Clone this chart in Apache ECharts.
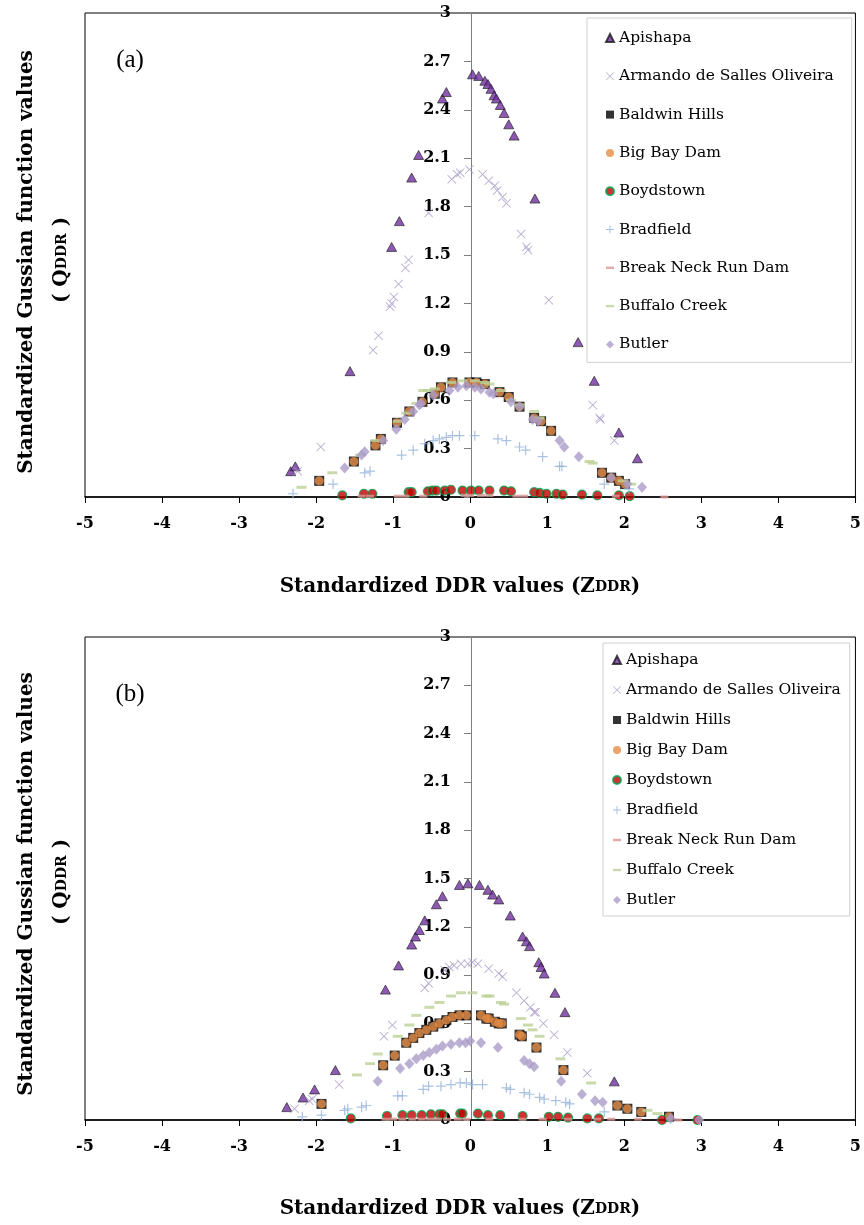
<!DOCTYPE html>
<html>
<head>
<meta charset="utf-8">
<script src="https://cdn.jsdelivr.net/npm/echarts@6.0.0/dist/echarts.min.js"></script>
<style>
  html, body { margin: 0; padding: 0; background: #fff; }
  #main { width: 864px; height: 1225px; }
</style>
</head>
<body>
<div id="main"></div>
<script>
// ---- data: [Z_DDR, Q_DDR] ----
var names = ['Apishapa', 'Armando de Salles Oliveira', 'Baldwin Hills', 'Big Bay Dam',
  'Boydstown', 'Bradfield', 'Break Neck Run Dam', 'Buffalo Creek', 'Butler'];
var xTicks = [-5, -4, -3, -2, -1, 0, 1, 2, 3, 4, 5];
var yTicks = [0, 0.3, 0.6, 0.9, 1.2, 1.5, 1.8, 2.1, 2.4, 2.7, 3];

// panel (a)
var apishapaA = [[-2.33,0.16],[-2.27,0.19],[-1.56,0.78],[-1.02,1.55],[-0.92,1.71],[-0.76,1.98],[-0.67,2.12],
  [-0.36,2.47],[-0.31,2.51],[0.03,2.62],[0.11,2.61],[0.19,2.58],[0.23,2.56],[0.27,2.53],[0.31,2.49],[0.34,2.47],
  [0.39,2.43],[0.44,2.38],[0.50,2.31],[0.57,2.24],[0.84,1.85],[1.40,0.96],[1.61,0.72],[1.93,0.40],[2.17,0.24]];
var armandoA = [[-2.24,0.16],[-1.94,0.31],[-1.26,0.91],[-1.19,1.00],[-1.04,1.18],[-1.02,1.20],[-0.99,1.24],
  [-0.93,1.32],[-0.84,1.42],[-0.80,1.47],[-0.54,1.76],[-0.24,1.97],[-0.17,2.00],[-0.13,2.01],[-0.01,2.03],
  [0.16,2.00],[0.24,1.96],[0.32,1.93],[0.35,1.90],[0.42,1.86],[0.47,1.82],[0.66,1.63],[0.73,1.55],[0.75,1.53],
  [1.02,1.22],[1.59,0.57],[1.68,0.49],[1.69,0.48],[1.87,0.35]];
var baldwinA = [[-1.96,0.10],[-1.51,0.22],[-1.23,0.32],[-1.16,0.36],[-0.95,0.46],[-0.79,0.53],[-0.62,0.59],
  [-0.46,0.64],[-0.38,0.68],[-0.23,0.71],[-0.01,0.71],[0.08,0.71],[0.19,0.70],[0.38,0.65],[0.50,0.62],
  [0.64,0.56],[0.83,0.49],[0.92,0.47],[1.05,0.41],[1.71,0.15],[1.83,0.12],[1.93,0.10],[2.01,0.08]];
var bigBayA = [[-1.96,0.10],[-1.51,0.22],[-1.23,0.32],[-1.16,0.36],[-0.95,0.46],[-0.79,0.53],[-0.62,0.59],
  [-0.46,0.64],[-0.38,0.68],[-0.23,0.71],[-0.01,0.71],[0.08,0.71],[0.19,0.70],[0.38,0.65],[0.50,0.62],
  [0.64,0.56],[0.83,0.49],[0.92,0.47],[1.05,0.41],[1.71,0.15],[1.83,0.12],[1.93,0.10],[2.01,0.08]];
var boydstownA = [[-1.66,0.01],[-1.38,0.02],[-1.27,0.02],[-0.80,0.03],[-0.76,0.03],[-0.55,0.035],[-0.49,0.04],
  [-0.44,0.04],[-0.33,0.04],[-0.25,0.045],[-0.10,0.04],[0.01,0.04],[0.11,0.04],[0.25,0.04],[0.44,0.04],
  [0.53,0.035],[0.83,0.03],[0.90,0.025],[0.99,0.02],[1.12,0.02],[1.20,0.015],[1.45,0.015],[1.65,0.01],
  [1.93,0.01],[2.07,0.005]];
var bradfieldA = [[-2.30,0.02],[-1.78,0.08],[-1.37,0.15],[-1.30,0.16],[-0.89,0.26],[-0.74,0.29],[-0.59,0.33],
  [-0.48,0.35],[-0.40,0.36],[-0.31,0.37],[-0.23,0.38],[-0.14,0.38],[0.06,0.38],[0.36,0.36],[0.47,0.35],
  [0.64,0.31],[0.72,0.29],[0.94,0.25],[1.16,0.19],[1.19,0.19],[1.74,0.08],[2.06,0.05]];
var breakNeckA = [[-1.41,0.005],[-1.30,0.005],[-0.94,0.005],[-0.84,0.005],[-0.61,0.005],[-0.07,0.01],[0.0,0.01],
  [0.14,0.01],[0.25,0.01],[0.60,0.005],[0.70,0.005],[1.89,0.005],[2.52,0.0]];
var buffaloA = [[-2.19,0.06],[-1.79,0.15],[-1.43,0.26],[-1.23,0.35],[-0.94,0.47],[-0.83,0.52],[-0.70,0.58],
  [-0.61,0.66],[-0.55,0.66],[-0.46,0.67],[-0.25,0.71],[-0.10,0.72],[0.06,0.72],[0.19,0.71],[0.25,0.70],
  [0.40,0.66],[0.53,0.60],[0.64,0.57],[0.83,0.53],[0.90,0.49],[1.55,0.22],[1.59,0.21],[1.98,0.10],[2.09,0.08]];
var butlerA = [[-1.63,0.18],[-1.41,0.26],[-1.37,0.28],[-1.13,0.35],[-0.96,0.42],[-0.85,0.48],[-0.74,0.53],
  [-0.66,0.57],[-0.64,0.58],[-0.48,0.63],[-0.27,0.66],[-0.16,0.68],[-0.05,0.69],[0.06,0.68],[0.14,0.67],
  [0.25,0.65],[0.30,0.64],[0.53,0.59],[0.64,0.56],[0.81,0.48],[0.88,0.47],[1.16,0.35],[1.22,0.31],[1.41,0.25],
  [1.83,0.12],[2.04,0.08],[2.23,0.06]];

// panel (b)
var apishapaB = [[-2.38,0.08],[-2.17,0.14],[-2.02,0.19],[-1.75,0.31],[-1.10,0.81],[-0.93,0.96],[-0.76,1.09],
  [-0.71,1.14],[-0.66,1.18],[-0.59,1.24],[-0.44,1.34],[-0.36,1.39],[-0.14,1.46],[-0.03,1.47],[0.12,1.46],
  [0.23,1.43],[0.29,1.40],[0.37,1.37],[0.52,1.27],[0.68,1.14],[0.73,1.11],[0.77,1.08],[0.89,0.98],[0.92,0.95],
  [0.96,0.91],[1.10,0.79],[1.23,0.67],[1.87,0.24]];
var armandoB = [[-2.28,0.07],[-2.09,0.12],[-2.05,0.13],[-1.70,0.22],[-1.12,0.52],[-1.01,0.59],[-0.59,0.82],
  [-0.54,0.85],[-0.33,0.93],[-0.27,0.95],[-0.21,0.96],[-0.12,0.97],[-0.03,0.97],[0.03,0.98],[0.10,0.97],
  [0.24,0.94],[0.37,0.91],[0.42,0.89],[0.60,0.79],[0.70,0.74],[0.78,0.70],[0.83,0.67],[0.85,0.67],[0.95,0.60],
  [1.09,0.53],[1.26,0.42],[1.52,0.29]];
var baldwinB = [[-1.93,0.10],[-1.13,0.34],[-0.98,0.40],[-0.83,0.48],[-0.74,0.51],[-0.66,0.54],[-0.57,0.56],
  [-0.48,0.58],[-0.40,0.60],[-0.31,0.62],[-0.23,0.64],[-0.14,0.65],[-0.05,0.65],[0.14,0.65],[0.21,0.63],
  [0.24,0.63],[0.32,0.61],[0.37,0.60],[0.41,0.60],[0.64,0.53],[0.67,0.52],[0.86,0.45],[1.21,0.31],[1.91,0.09],
  [2.04,0.07],[2.22,0.05],[2.58,0.02]];
var bigBayB = [[-1.93,0.10],[-1.13,0.34],[-0.98,0.40],[-0.83,0.48],[-0.74,0.51],[-0.66,0.54],[-0.57,0.56],
  [-0.48,0.58],[-0.40,0.60],[-0.31,0.62],[-0.23,0.64],[-0.14,0.65],[-0.05,0.65],[0.14,0.65],[0.21,0.63],
  [0.24,0.63],[0.32,0.61],[0.37,0.60],[0.41,0.60],[0.64,0.53],[0.67,0.52],[0.86,0.45],[1.21,0.31],[1.91,0.09],
  [2.04,0.07],[2.22,0.05],[2.58,0.02]];
var boydstownB = [[-1.55,0.01],[-1.08,0.025],[-0.88,0.03],[-0.76,0.03],[-0.63,0.03],[-0.51,0.035],[-0.40,0.035],
  [-0.36,0.035],[-0.13,0.04],[-0.10,0.04],[0.10,0.04],[0.23,0.03],[0.39,0.03],[0.68,0.025],[1.02,0.02],
  [1.14,0.02],[1.27,0.015],[1.52,0.01],[1.67,0.01],[2.49,0.0],[2.95,0.0]];
var bradfieldB = [[-2.18,0.02],[-1.93,0.03],[-1.63,0.06],[-1.59,0.07],[-1.41,0.08],[-1.35,0.09],[-0.94,0.15],
  [-0.88,0.15],[-0.61,0.19],[-0.54,0.21],[-0.38,0.21],[-0.25,0.22],[-0.13,0.23],[-0.05,0.23],[0.03,0.22],
  [0.16,0.22],[0.47,0.20],[0.52,0.19],[0.70,0.17],[0.77,0.16],[0.90,0.14],[0.96,0.13],[1.11,0.12],[1.24,0.11],
  [1.29,0.10],[1.74,0.05]];
var breakNeckB = [[-1.10,0.005],[-1.00,0.005],[-0.88,0.005],[-0.75,0.005],[-0.63,0.005],[-0.52,0.005],
  [-0.42,0.005],[-0.30,0.005],[-0.16,0.005],[-0.05,0.005],[0.25,0.005],[0.68,0.005],[0.94,0.005],[1.27,0.005],
  [1.65,0.005],[1.83,0.005],[2.18,0.005],[2.70,0.0]];
var buffaloB = [[-1.47,0.28],[-1.30,0.35],[-1.20,0.41],[-0.94,0.52],[-0.79,0.59],[-0.70,0.65],[-0.53,0.70],
  [-0.40,0.73],[-0.25,0.77],[-0.12,0.79],[0.03,0.79],[0.21,0.77],[0.25,0.77],[0.40,0.73],[0.44,0.72],
  [0.66,0.63],[0.75,0.59],[0.81,0.56],[0.90,0.52],[1.17,0.38],[1.57,0.23],[2.30,0.06],[2.43,0.04]];
var butlerB = [[-1.20,0.24],[-0.91,0.32],[-0.79,0.35],[-0.70,0.38],[-0.61,0.40],[-0.53,0.42],[-0.44,0.44],
  [-0.36,0.46],[-0.25,0.47],[-0.14,0.48],[-0.06,0.48],[0.00,0.49],[0.14,0.48],[0.36,0.45],[0.70,0.37],
  [0.77,0.35],[0.83,0.33],[1.18,0.24],[1.45,0.16],[1.62,0.12],[1.72,0.11],[2.60,0.01],[2.97,0.0]];

var panelA = [apishapaA, armandoA, baldwinA, bigBayA, boydstownA, bradfieldA, breakNeckA, buffaloA, butlerA];
var panelB = [apishapaB, armandoB, baldwinB, bigBayB, boydstownB, bradfieldB, breakNeckB, buffaloB, butlerB];

// marker look for each dam (same order as names)
var X_PATH = 'path://M0,0.7L0.7,0L5,4.3L9.3,0L10,0.7L5.7,5L10,9.3L9.3,10L5,5.7L0.7,10L0,9.3L4.3,5Z';
var PLUS_PATH = 'path://M4.4,0h1.2v4.4h4.4v1.2h-4.4v4.4h-1.2v-4.4h-4.4v-1.2h4.4z';
var DASH_PATH = 'path://M0,0h10v3h-10z';
var markers = [
  { symbol: 'triangle', size: [10, 9], style: { color: '#7030A0', borderColor: '#1a1a1a', borderWidth: 0.8 } },
  { symbol: X_PATH, size: 9, style: { color: '#A99BC7' } },
  { symbol: 'rect', size: 10, style: { color: '#000000' } },
  { symbol: 'circle', size: 9, style: { color: '#E48C46' } },
  { symbol: 'circle', size: 9, style: { color: '#C00000', borderColor: '#00A651', borderWidth: 1.2 } },
  { symbol: PLUS_PATH, size: 10, style: { color: '#95B1D8' } },
  { symbol: DASH_PATH, size: [8, 3], style: { color: '#D99694' } },
  { symbol: DASH_PATH, size: [10, 3], style: { color: '#BDD197' } },
  { symbol: 'diamond', size: [10, 11], style: { color: '#AA9CC8' } }
];

var SERIF = "'DejaVu Serif', 'Liberation Serif', serif";
var GRID_LEFT = 85, GRID_W = 772;

function buildSeries(sets, gi) {
  return sets.map(function (pts, k) {
    return {
      type: 'scatter',
      name: names[k],
      xAxisIndex: gi,
      yAxisIndex: gi,
      data: pts,
      symbol: markers[k].symbol,
      symbolSize: markers[k].size,
      itemStyle: markers[k].style,
      emphasis: { disabled: true },
      silent: true
    };
  });
}

function xAxisFor(gi) {
  return {
    gridIndex: gi,
    type: 'value',
    min: xTicks[0],
    max: xTicks[xTicks.length - 1],
    interval: 1,
    splitLine: { show: false },
    axisLine: { onZero: false, lineStyle: { color: '#000', width: 1.5 } },
    axisTick: { length: 6, lineStyle: { color: '#000' } },
    axisLabel: { margin: 19, color: '#000', fontFamily: SERIF, fontWeight: 'bold', fontSize: 16 }
  };
}

function yAxisFor(gi) {
  // vertical axis sits on Z = 0, half way across the plot
  return {
    gridIndex: gi,
    type: 'value',
    position: 'left',
    offset: -GRID_W / 2,
    min: yTicks[0],
    max: yTicks[yTicks.length - 1],
    interval: 0.3,
    splitLine: { show: false },
    axisLine: { onZero: false, lineStyle: { color: '#7f7f7f', width: 1 } },
    axisTick: { length: 7, lineStyle: { color: '#7f7f7f' } },
    axisLabel: {
      margin: 20, color: '#000', fontFamily: SERIF, fontWeight: 'bold', fontSize: 16,
      showMinLabel: true, showMaxLabel: true,
      formatter: function (v) { return String(Math.round(v * 10) / 10); }
    }
  };
}

function legendFor(left, top, gap, pad) {
  return {
    orient: 'vertical',
    left: left,
    top: top,
    itemWidth: 8,
    itemHeight: 8,
    itemGap: gap,
    padding: pad,
    borderColor: '#d0d0d0',
    borderWidth: 1,
    selectedMode: false,
    textStyle: { fontFamily: SERIF, fontSize: 15.5, lineHeight: 14, color: '#000' },
    data: names
  };
}

var titleRich = {
  m: { fontFamily: SERIF, fontWeight: 'bold', fontSize: 20, color: '#000' },
  s: { fontFamily: SERIF, fontWeight: 'bold', fontSize: 14, color: '#000' }
};
var centered = { align: 'center', verticalAlign: 'middle', textAlign: 'center', textVerticalAlign: 'middle' };

function axisTitles(dy) {
  return [
    { type: 'text', x: 460, y: 587 + dy,
      style: Object.assign({ text: '{m|Standardized DDR values (Z}{s|DDR}{m|)}', rich: titleRich }, centered) },
    { type: 'text', x: 27, y: 262 + dy, rotation: Math.PI / 2,
      style: Object.assign({ text: '{m|Standardized Gussian function values}', rich: titleRich }, centered) },
    { type: 'text', x: 62, y: 260 + dy, rotation: Math.PI / 2,
      style: Object.assign({ text: '{m|( Q}{s|DDR}{m| )}', rich: titleRich }, centered) }
  ];
}

var chart = echarts.init(document.getElementById('main'), null, { renderer: 'canvas' });

var option = {
  backgroundColor: '#ffffff',
  animation: false,
  grid: [
    { left: GRID_LEFT, top: 13, width: GRID_W, height: 484, show: true, borderColor: '#000', borderWidth: 1, backgroundColor: 'transparent' },
    { left: GRID_LEFT, top: 637, width: GRID_W, height: 483, show: true, borderColor: '#000', borderWidth: 1, backgroundColor: 'transparent' }
  ],
  xAxis: [xAxisFor(0), xAxisFor(1)],
  yAxis: [yAxisFor(0), yAxisFor(1)],
  legend: [
    legendFor(587, 18, 22.3, [12, 18, 10, 18]),
    legendFor(603, 643, 14, [9, 9, 8, 9])
  ],
  graphic: [].concat(
    axisTitles(0),
    axisTitles(622),
    [
      { type: 'text', x: 130, y: 60, style: Object.assign({ text: '(a)', font: "25px 'Liberation Serif', serif", fill: '#000' }, centered) },
      { type: 'text', x: 130, y: 694, style: Object.assign({ text: '(b)', font: "25px 'Liberation Serif', serif", fill: '#000' }, centered) }
    ]
  ),
  series: buildSeries(panelA, 0).concat(buildSeries(panelB, 1))
};

chart.setOption(option);
</script>
</body>
</html>
